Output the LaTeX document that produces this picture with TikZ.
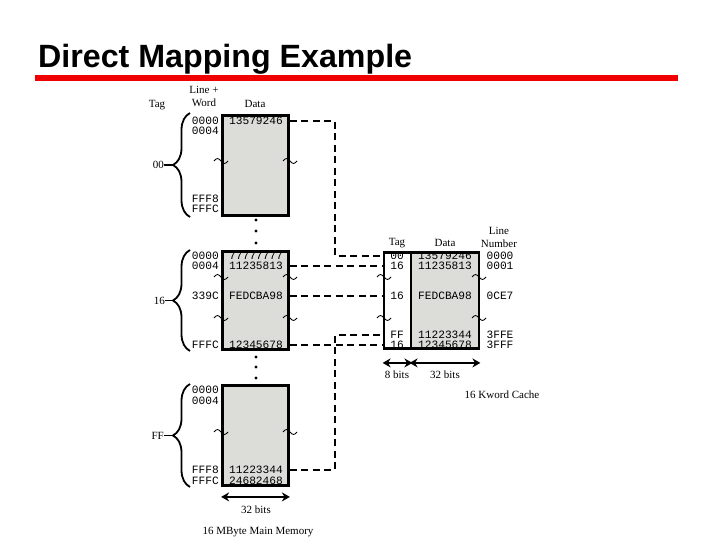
\documentclass[tikz,border=0pt]{standalone}
\usepackage{fontspec}
\setmainfont{Liberation Serif}
\setsansfont{Liberation Sans}
\setmonofont{Liberation Mono}
\usepackage{tikz}
\usetikzlibrary{arrows.meta, positioning, decorations.pathreplacing, calc}
\definecolor{rojo}{HTML}{F00000}
\definecolor{gris}{HTML}{DCDDD9}
\tikzset{
  every picture/.style={>=Stealth},
  bloque/.style={draw=black, fill=gris, line width=2.8pt, minimum width=66pt, inner sep=0pt},
  columna/.style={draw=black, line width=2.8pt, minimum height=96pt, inner sep=0pt},
  hexa/.style={font=\ttfamily\fontsize{11.2}{11}\selectfont, inner sep=0pt},
  etiq/.style={font=\fontsize{11}{13}\selectfont, inner sep=0pt, align=center},
  conex/.style={line width=2.2pt, dash pattern=on 7pt off 4.5pt},
  medida/.style={{Stealth[length=8pt,width=9pt]}-{Stealth[length=8pt,width=9pt]}, line width=2.6pt},
  llave/.style={decorate, decoration={brace, amplitude=17pt}, line width=1.8pt},
  corte/.pic={\draw[line width=0.8pt] (-7,0) sin (-3.5,-2.5) cos (0,0) sin (3.5,2.5) cos (7,0);},
}

\begin{document}
\begin{tikzpicture}[x=1pt, y=-1pt]
  \useasboundingbox (0,0) rectangle (720,540);
  \node[font=\sffamily\bfseries\fontsize{32.2}{32}\selectfont, anchor=base west, inner sep=0pt] (titulo) at (38,68) {Direct Mapping Example};
  \fill[rojo] (35,75) rectangle (678,81);

  % main memory
  \node[bloque, minimum height=100pt] (memA) at (255.5,165.5) {};
  \node[bloque, minimum height=98pt] (memB) at (255.5,300.5) {};
  \node[bloque, minimum height=100pt] (memC) at (255.5,435.5) {};

  \node[etiq] (cabTag) at (157,105) {Tag};
  \node[etiq] (cabLin) at (204,96) {Line +\\Word};
  \node[etiq] (cabDat) at (255,104) {Data};

  \node[hexa, anchor=east] (dirA1) at (219,121) {0000};
  \node[hexa, anchor=east] (dirA2) at (219,131) {0004};
  \node[hexa, anchor=east] (dirA3) at (219,199) {FFF8};
  \node[hexa, anchor=east] (dirA4) at (219,209) {FFFC};
  \node[hexa] (datA1) at (256,121) {13579246};

  \node[hexa, anchor=east] (dirB1) at (219,256) {0000};
  \node[hexa, anchor=east] (dirB2) at (219,266) {0004};
  \node[hexa, anchor=east] (dirB3) at (219,296) {339C};
  \node[hexa, anchor=east] (dirB4) at (219,345) {FFFC};
  \node[hexa] (datB1) at (256,256) {77777777};
  \node[hexa] (datB2) at (256,266) {11235813};
  \node[hexa] (datB3) at (256,296) {FEDCBA98};
  \node[hexa] (datB4) at (256,345) {12345678};

  \node[hexa, anchor=east] (dirC1) at (219,390) {0000};
  \node[hexa, anchor=east] (dirC2) at (219,401) {0004};
  \node[hexa, anchor=east] (dirC3) at (219,470) {FFF8};
  \node[hexa, anchor=east] (dirC4) at (219,480.5) {FFFC};
  \node[hexa] (datC1) at (256,470) {11223344};
  \node[hexa] (datC2) at (256,480.5) {24682468};

  \foreach \y in {220,231,243,357,367,378}
    \fill (256,\y) circle (1.7pt);

  \draw[llave] (190,217) -- (190,113);
  \draw[llave] (190,351) -- (190,250);
  \draw[llave] (190,487) -- (190,384);
  \coordinate (puntaA) at (173,165);
  \coordinate (puntaB) at (173,300.5);
  \coordinate (puntaC) at (173,435.5);
  \node[etiq, anchor=east] (tagA) at (164,165) {00};
  \node[etiq, anchor=east] (tagB) at (165,300.5) {16};
  \node[etiq, anchor=east] (tagC) at (164,435.5) {FF};
  \draw[line width=1.8pt] (tagA.east) -- (puntaA);
  \draw[line width=1.8pt] (tagB.east) -- (puntaB);
  \draw[line width=1.8pt] (tagC.east) -- (puntaC);

  \draw[medida] ($(memC.south west)+(0,10)$) -- ($(memC.south east)+(0,10)$);
  \node[etiq] (anchoM) at (256,510) {32 bits};
  \node[etiq] (nomM) at (258,532) {16 MByte Main Memory};

  % cache
  \node[columna, minimum width=27pt, fill=white] (cTag) at (397.5,300.5) {};
  \node[columna, minimum width=68pt, fill=gris] (cDat) at (445,300.5) {};

  \node[etiq] (cabTagC) at (397,243) {Tag};
  \node[etiq] (cabDatC) at (445,243) {Data};
  \node[etiq] (cabNum) at (499,237) {Line\\Number};

  \node[hexa] (etC1) at (397,256) {00};
  \node[hexa] (etC2) at (397,266) {16};
  \node[hexa] (etC3) at (397,296) {16};
  \node[hexa] (etC4) at (397,335) {FF};
  \node[hexa] (etC5) at (397,345) {16};
  \node[hexa] (dcC1) at (445,256) {13579246};
  \node[hexa] (dcC2) at (445,266) {11235813};
  \node[hexa] (dcC3) at (445,296) {FEDCBA98};
  \node[hexa] (dcC4) at (445,335) {11223344};
  \node[hexa] (dcC5) at (445,345) {12345678};
  \node[hexa] (linC1) at (500,256) {0000};
  \node[hexa] (linC2) at (500,266) {0001};
  \node[hexa] (linC3) at (500,296) {0CE7};
  \node[hexa] (linC4) at (500,335) {3FFE};
  \node[hexa] (linC5) at (500,345) {3FFF};

  \draw[medida] ($(cTag.south west)+(0,13)$) -- ($(cTag.south east)+(0,13)$);
  \draw[medida] ($(cDat.south west)+(0,13)$) -- ($(cDat.south east)+(0,13)$);
  \node[etiq] (ancho8) at (397,375) {8 bits};
  \node[etiq] (ancho32) at (445,375) {32 bits};
  \node[etiq] (nomC) at (502,395) {16 Kword Cache};

  \foreach \x/\y in {221/161, 290/161, 221/277, 290/277, 221/318, 290/318,
                     221/432, 290/432, 384/277, 479/277, 384/318, 479/318}
    \pic at (\x,\y) {corte};

  % mapping
  \coordinate (giro) at (335,0);
  \draw[conex] (memA.east |- datA1) -- (datA1 -| giro) -- (etC1 -| giro) -- (cTag.west |- etC1);
  \draw[conex] (memB.east |- datB2) -- (cTag.west |- etC2);
  \draw[conex] (memB.east |- datB3) -- (cTag.west |- etC3);
  \draw[conex] (memB.east |- datB4) -- (cTag.west |- etC5);
  \draw[conex] (memC.east |- datC1) -- (datC1 -| giro) -- (etC4 -| giro) -- (cTag.west |- etC4);
\end{tikzpicture}
\end{document}
